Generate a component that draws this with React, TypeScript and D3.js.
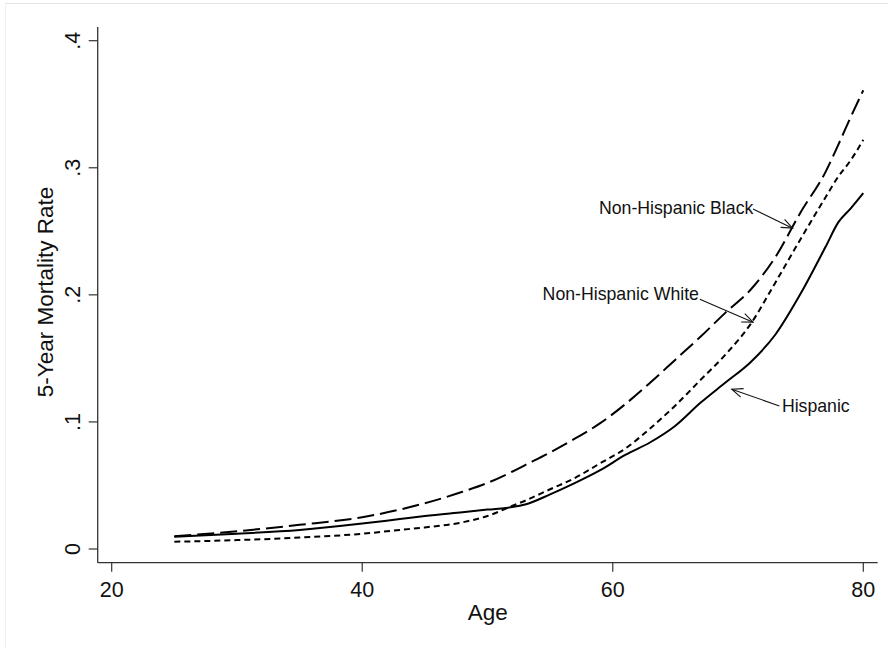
import React from "react";
import * as d3 from "d3";

const ages = [25, 30, 35, 40, 43, 45, 48, 50, 52, 53, 55, 57, 59, 61, 63, 65, 67, 69, 71, 73, 75, 77, 78, 79, 80];
const black = [0.010, 0.014, 0.019, 0.025, 0.031, 0.036, 0.045, 0.052, 0.061, 0.066, 0.076, 0.087, 0.099, 0.114, 0.131, 0.149, 0.167, 0.186, 0.204, 0.230, 0.265, 0.297, 0.318, 0.340, 0.361];
const white = [0.0057, 0.007, 0.009, 0.012, 0.015, 0.017, 0.021, 0.026, 0.034, 0.038, 0.047, 0.056, 0.0675, 0.079, 0.095, 0.113, 0.133, 0.153, 0.177, 0.210, 0.244, 0.277, 0.293, 0.306, 0.322];
const hispanic = [0.0097, 0.012, 0.015, 0.020, 0.0236, 0.026, 0.029, 0.031, 0.033, 0.035, 0.043, 0.052, 0.062, 0.074, 0.084, 0.097, 0.115, 0.131, 0.147, 0.169, 0.201, 0.238, 0.257, 0.268, 0.280];

const xTicks = [20, 40, 60, 80];
const yTicks = [0, 0.1, 0.2, 0.3, 0.4];
const yTickLabels = ["0", ".1", ".2", ".3", ".4"];

const seriesNames = ["Non-Hispanic Black", "Non-Hispanic White", "Hispanic"];
// label anchor (age, rate) and arrow (age, rate)
const labelAt = [
  [58.9, 0.264],
  [54.4, 0.196],
  [73.5, 0.108],
];
const arrowFrom = [
  [71.2, 0.2675],
  [66.95, 0.1966],
  [73.3, 0.1126],
];
const arrowTo = [
  [74.35, 0.2525],
  [71.2, 0.1785],
  [69.5, 0.1257],
];

const W = 888;
const H = 648;

export default function App() {
  const x = d3.scaleLinear().domain([20, 80]).range([111.7, 863.3]);
  const y = d3.scaleLinear().domain([0, 0.4]).range([549, 40.7]);
  const axisX = 97.7;
  const axisY = 562.7;
  const font = "'Liberation Sans', Arial, Helvetica, sans-serif";

  const mk = (vals: number[]) =>
    d3
      .line<number>()
      .x((_, i) => x(ages[i]))
      .y((v) => y(v))
      .curve(d3.curveMonotoneX)(vals) as string;

  const series = [
    { vals: black, dash: "17,6" },
    { vals: white, dash: "6,4" },
    { vals: hispanic, dash: "none" },
  ];

  return (
    <svg
      width={W}
      height={H}
      style={{ position: "absolute", left: 0, top: 0, background: "#fff" }}
      fontFamily={font}
    >
      <defs>
        <marker
          id="arr"
          markerUnits="userSpaceOnUse"
          viewBox="-12 -6 14 12"
          markerWidth={14}
          markerHeight={12}
          refX={0}
          refY={0}
          orient="auto"
        >
          <path d="M-11,-4.5 L0,0 L-11,4.5" fill="none" stroke="#111" strokeWidth={1.1} />
        </marker>
      </defs>
      <rect x={0} y={0} width={W} height={H} fill="#fff" />
      <line x1={5} x2={W} y1={3.5} y2={3.5} stroke="#e4e4e4" strokeWidth={1.2} />
      <line x1={5.5} x2={5.5} y1={3} y2={H} stroke="#f0f0f0" strokeWidth={1} />

      {/* axes */}
      <line x1={axisX} x2={axisX} y1={27} y2={axisY} stroke="#333" strokeWidth={1.3} />
      <line x1={axisX} x2={877.7} y1={axisY} y2={axisY} stroke="#333" strokeWidth={1.3} />
      {yTicks.map((t, i) => (
        <g key={"y" + i}>
          <line x1={axisX - 9} x2={axisX} y1={y(t)} y2={y(t)} stroke="#333" strokeWidth={1.2} />
          <text
            transform={`translate(79.5,${y(t)}) rotate(-90)`}
            textAnchor="middle"
            fontSize={21.5}
            fill="#111"
          >
            {yTickLabels[i]}
          </text>
        </g>
      ))}
      {xTicks.map((t, i) => (
        <g key={"x" + i}>
          <line x1={x(t)} x2={x(t)} y1={axisY} y2={axisY + 9} stroke="#333" strokeWidth={1.2} />
          <text x={x(t)} y={597} textAnchor="middle" fontSize={21.5} fill="#111">
            {t}
          </text>
        </g>
      ))}
      <text x={487.7} y={620} textAnchor="middle" fontSize={22.5} fill="#111">
        Age
      </text>
      <text
        transform={`translate(53,292) rotate(-90)`}
        textAnchor="middle"
        fontSize={22.5}
        fill="#111"
      >
        5-Year Mortality Rate
      </text>

      {series.map((s, i) => (
        <path
          key={"s" + i}
          d={mk(s.vals)}
          fill="none"
          stroke="#000"
          strokeWidth={2}
          strokeDasharray={s.dash}
        />
      ))}

      {seriesNames.map((n, i) => (
        <g key={"l" + i}>
          <text
            x={x(labelAt[i][0])}
            y={y(labelAt[i][1])}
            fontSize={17.7}
            fill="#111"
          >
            {n}
          </text>
          <line
            x1={x(arrowFrom[i][0])}
            y1={y(arrowFrom[i][1])}
            x2={x(arrowTo[i][0])}
            y2={y(arrowTo[i][1])}
            stroke="#111"
            strokeWidth={1.1}
            markerEnd="url(#arr)"
          />
        </g>
      ))}
    </svg>
  );
}
